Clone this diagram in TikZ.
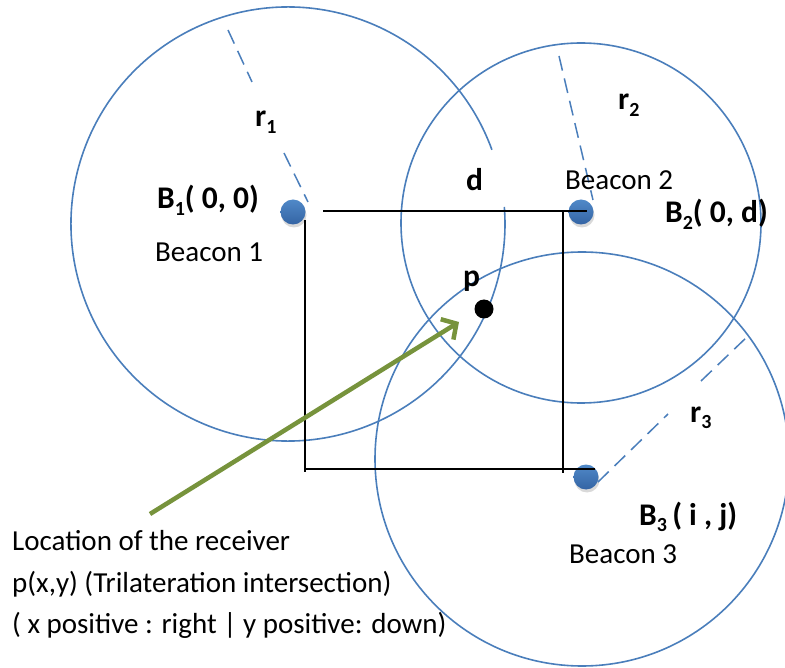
\documentclass[tikz,border=0pt]{standalone}
\usepackage{fontspec}
\setmainfont{Carlito}
\usepackage{tikz}
\usetikzlibrary{arrows.meta,positioning,shadows}
\definecolor{ringblue}{HTML}{4A7EBB}
\definecolor{dotblue}{HTML}{5089C8}
\definecolor{dotdark}{HTML}{3464A4}
\definecolor{arrgreen}{HTML}{77933C}
\newcommand{\lowidx}[1]{\raisebox{-0.2em}{\fontsize{20}{20}\selectfont #1}}

\begin{document}
\begin{tikzpicture}[x=1pt, y=-1pt,
ring/.style={draw=ringblue, line width=1.6pt},
rline/.style={draw=ringblue, line width=1.5pt, dash pattern=on 15pt off 8pt},
sqline/.style={draw=black, line width=1.1pt},
beacon/.style={circle, minimum size=25pt, inner sep=0pt, top color=dotblue, bottom color=dotdark, drop shadow={shadow xshift=1pt, shadow yshift=-3pt, opacity=0.3}},
rxdot/.style={circle, fill=black, minimum size=19pt, inner sep=0pt},
txt/.style={anchor=base west, inner sep=0pt, font=\fontsize{29}{34}\selectfont},
btxt/.style={txt, font=\fontsize{31.5}{36}\selectfont\bfseries},
arr/.style={draw=arrgreen, line width=4.5pt, -{Straight Barb[length=11pt, width=24pt]}}
]
\useasboundingbox (0,0) rectangle (785,668);

% Circle centres
\coordinate (c1) at (288,224);
\coordinate (c2) at (581,223);
\coordinate (c3) at (582,459);

% Range circles
\draw[ring] (c1) ++(20:217pt) arc[start angle=20, end angle=364.5, radius=217pt];
\draw[ring] (c2) circle (180);
\draw[ring] (c3) circle (207);

% Beacons and receiver
\node[beacon] (b1) at (293,212) {};
\node[beacon] (b2) at (581,212) {};
\node[beacon] (b3) at (586,477) {};
\node[rxdot] (p) at (484,309) {};

% Square between beacons
\coordinate (sqA) at (323,211);
\coordinate (sqB) at (587,211);
\coordinate (sqC) at (305,220);
\coordinate (sqD) at (305,472);
\coordinate (sqE) at (305,469);
\coordinate (sqF) at (595,469);
\coordinate (sqG) at (563,211);
\coordinate (sqH) at (563,473);
\draw[sqline] (sqA) -- (sqB);
\draw[sqline] (sqC) -- (sqD);
\draw[sqline] (sqE) -- (sqF);
\draw[sqline] (sqG) -- (sqH);

% Radii
\coordinate (r1a) at (228,30);
\coordinate (r1b) at (252,82);
\coordinate (r1c) at (284,153);
\coordinate (r1d) at (308,202);
\coordinate (r2a) at (559,56);
\coordinate (r2b) at (593,200);
\coordinate (r3a) at (598,482);
\coordinate (r3b) at (668,414);
\coordinate (r3c) at (701,381);
\coordinate (r3d) at (748,336);
\draw[rline] (r1a) -- (r1b);
\draw[rline] (r1c) -- (r1d);
\draw[rline] (r2a) -- (r2b);
\draw[rline] (r3a) -- (r3b);
\draw[rline] (r3c) -- (r3d);

% Labels
\node[btxt] (b1lbl) at (157,209) {B\lowidx{1}( 0, 0)};
\node[txt] (b1name) at (155,262) {Beacon 1};
\node[btxt] (r1lbl) at (255,127) {r\lowidx{1}};
\node[btxt] (dlbl) at (466,191) {d};
\node[txt] (b2name) at (565,190) {Beacon 2};
\node[btxt] (r2lbl) at (618,110) {r\lowidx{2}};
\node[btxt] (b2lbl) at (665,223) {B\lowidx{2}( 0, d)};
\node[btxt] (plbl) at (463,287) {p};
\node[btxt] (r3lbl) at (690,422) {r\lowidx{3}};
\node[btxt] (b3lbl) at (639,525) {B\lowidx{3}\,( i , j)};
\node[txt] (b3name) at (569,563) {Beacon 3};

% Receiver note
\node[txt] (rxtext) at (12,550) {Location of the receiver};
\node[txt] (rxcoord) at (12,592) {p(x,y) (Trilateration intersection)};
\node[txt] (rxaxes) at (12,633) {( x positive : right | y positive: down)};

% Pointer
\coordinate (arrtail) at (150,514);
\coordinate (arrhead) at (459,322);
\draw[arr] (arrtail) -- (arrhead);
\end{tikzpicture}
\end{document}
